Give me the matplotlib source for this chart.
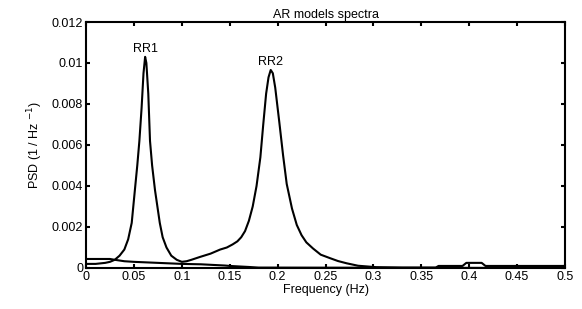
import matplotlib
matplotlib.use("Agg")
import matplotlib.pyplot as plt
from matplotlib.ticker import FuncFormatter

plt.rcParams['font.family'] = ['Liberation Sans', 'DejaVu Sans']

# spectrum with the two peaks
f_psd = [0, 0.01, 0.02, 0.025, 0.03, 0.035, 0.04, 0.044, 0.0477, 0.051, 0.0535,
         0.0557, 0.058, 0.060, 0.0617, 0.063, 0.065, 0.0668, 0.069, 0.072, 0.077,
         0.080, 0.084, 0.089, 0.0947, 0.100, 0.105, 0.110, 0.119, 0.130, 0.140,
         0.147, 0.153, 0.158, 0.162, 0.166, 0.170, 0.174, 0.178, 0.182, 0.185,
         0.188, 0.1905, 0.1928, 0.195, 0.1975, 0.2018, 0.2057, 0.2095, 0.215,
         0.220, 0.225, 0.230, 0.237, 0.245, 0.2547, 0.263, 0.272, 0.284, 0.303,
         0.330, 0.365, 0.368, 0.393, 0.397, 0.413, 0.417, 0.5]
psd = [0.0002, 0.0002, 0.00025, 0.0003, 0.0004, 0.0006, 0.0009, 0.0014, 0.0022,
       0.0038, 0.0050, 0.0062, 0.0078, 0.0095, 0.0103, 0.0100, 0.0085, 0.0062,
       0.0050, 0.0038, 0.0022, 0.0015, 0.0010, 0.0006, 0.0004, 0.0003, 0.00033,
       0.0004, 0.00054, 0.0007, 0.0009, 0.0010, 0.00115, 0.0013, 0.0015, 0.0018,
       0.0023, 0.0030, 0.0040, 0.0054, 0.0070, 0.0085, 0.0093, 0.00966, 0.0095,
       0.0088, 0.0071, 0.0055, 0.0041, 0.0029, 0.0021, 0.0016, 0.00125, 0.00095,
       0.00065, 0.00048, 0.00034, 0.00023, 0.00011, 0.00004, 0.00002, 0.00002,
       0.0001, 0.0001, 0.00025, 0.00025, 0.0001, 0.0001]

# low flat spectrum
f_flat = [0, 0.025, 0.03, 0.04, 0.05, 0.07, 0.10, 0.12, 0.145, 0.15, 0.17, 0.18, 0.5]
flat = [0.00044, 0.00044, 0.0004, 0.00033, 0.0003, 0.00026, 0.0002, 0.00018,
        0.00012, 0.0001, 0.00005, 0.00002, 0.0]

peak_names = ["RR1", "RR2"]
peak_f = [0.0617, 0.1928]
peak_v = [0.0103, 0.00966]

fig = plt.figure(figsize=(5.82, 3.09), dpi=100)
ax = fig.add_axes([0.1478, 0.1327, 0.8230, 0.7961])

ax.plot(f_flat, flat, color="black", lw=1.5)
ax.plot(f_psd, psd, color="black", lw=1.5)

for name, x, y in zip(peak_names, peak_f, peak_v):
    ax.text(x, y + 0.0001, name, ha="center", va="bottom", fontsize=9)

ax.set_xlim(0, 0.5)
ax.set_ylim(0, 0.012)
ax.set_xticks([0, 0.05, 0.1, 0.15, 0.2, 0.25, 0.3, 0.35, 0.4, 0.45, 0.5])
ax.set_yticks([0, 0.002, 0.004, 0.006, 0.008, 0.01, 0.012])
ax.xaxis.set_major_formatter(FuncFormatter(lambda v, p: "%g" % round(v, 3)))
ax.yaxis.set_major_formatter(FuncFormatter(lambda v, p: "%g" % round(v, 4)))
ax.tick_params(direction="in", top=True, right=True, length=3, width=1.5,
               labelsize=9, pad=2)
for s in ax.spines.values():
    s.set_linewidth(1.5)

ax.set_title("AR models spectra", fontsize=9, pad=3)
ax.set_xlabel("Frequency (Hz)", fontsize=9, labelpad=1)
ax.set_ylabel("PSD (1 / Hz $^{-1}$)", fontsize=9, labelpad=5)

fig.savefig("out.png", dpi=100)
